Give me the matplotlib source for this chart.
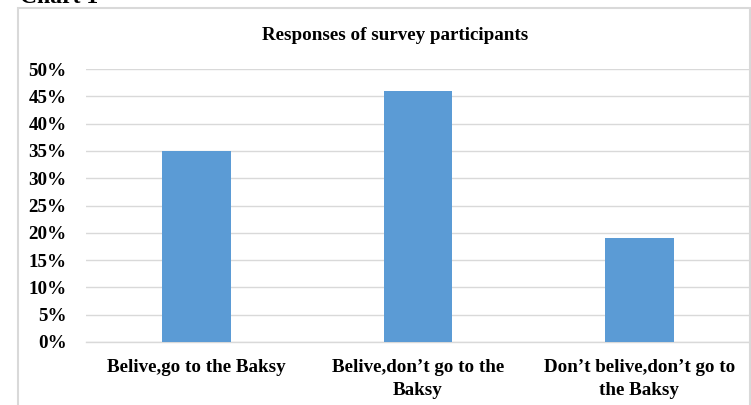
import matplotlib.pyplot as plt
from matplotlib.patches import Rectangle
from matplotlib.ticker import PercentFormatter

categories = ['Belive,go to the Baksy',
              'Belive,don\u2019t go to the\nBaksy',
              'Don\u2019t belive,don\u2019t go to\nthe Baksy']
values = [35, 46, 19]
yticks = [0, 5, 10, 15, 20, 25, 30, 35, 40, 45, 50]

plt.rcParams['font.family'] = ['Liberation Serif', 'DejaVu Serif']
plt.rcParams['font.weight'] = 'bold'

fig = plt.figure(figsize=(7.51, 4.05), dpi=100)
W, H = 751, 405

# border around chart area
fig.patches.append(Rectangle((18 / W, -0.1), (750 - 18) / W, 1.1 - 8 / H,
                             transform=fig.transFigure, fill=False,
                             edgecolor='#d9d9d9', linewidth=1.5))
fig.text(20 / W, 1 - 3 / H, 'Chart 1', fontsize=17, va='baseline', ha='left')

ax = fig.add_axes([86 / W, 1 - 342 / H, (750 - 86) / W, (342 - 69) / H])
ax.bar(range(len(values)), values, width=0.31, color='#5b9bd5', zorder=3)
ax.set_xlim(-0.5, 2.5)
ax.set_ylim(0, 50)
ax.set_yticks(yticks)
ax.yaxis.set_major_formatter(PercentFormatter(decimals=0))
ax.set_xticks(range(len(values)))
ax.set_xticklabels(categories, fontsize=13.7, linespacing=1.45)
ax.tick_params(axis='y', labelsize=13.7, length=0, pad=14)
ax.tick_params(axis='x', length=0, pad=12)
ax.grid(axis='y', color='#d9d9d9', linewidth=1, zorder=0)
for s in ['top', 'right', 'left']:
    ax.spines[s].set_visible(False)
ax.spines['bottom'].set_color('#d9d9d9')
ax.spines['bottom'].set_linewidth(1)

fig.text(395 / W, 1 - 35 / H, 'Responses of survey participants',
         fontsize=13.7, ha='center', va='center')

fig.savefig('out.png', dpi=100)
